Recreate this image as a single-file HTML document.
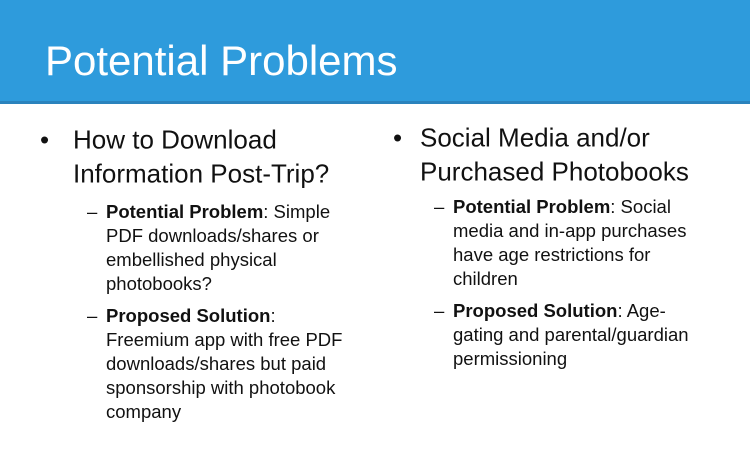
<!DOCTYPE html>
<html><head><meta charset="utf-8"><style>
body{margin:0;width:750px;height:469px;overflow:hidden;background:#fff;font-family:"Liberation Sans",sans-serif;position:relative}
#hdr{position:absolute;left:0;top:0;width:750px;height:101px;background:#2e9bdc;border-bottom:3px solid #2a83bd}
#title{position:absolute;left:45px;top:36px;font-size:42px;color:#fff;line-height:50px}
.t{position:absolute;white-space:nowrap;color:#111;transform:translateY(-50%)}
.l1{font-size:26px}
.l2{font-size:18.5px}
</style></head><body>
<div id="hdr"></div>
<div id="title">Potential Problems</div>
<div>
<div class="t l1" style="left:40px;top:140px">•</div>
<div class="t l1" style="left:73px;top:140px">How to Download</div>
<div class="t l1" style="left:73px;top:174px">Information Post-Trip?</div>
<div class="t l2" style="left:87px;top:212px">–</div>
<div class="t l2" style="left:106px;top:212px"><b>Potential Problem</b>: Simple</div>
<div class="t l2" style="left:106px;top:236px">PDF downloads/shares or</div>
<div class="t l2" style="left:106px;top:260px">embellished physical</div>
<div class="t l2" style="left:106px;top:284px">photobooks?</div>
<div class="t l2" style="left:87px;top:316px">–</div>
<div class="t l2" style="left:106px;top:316px"><b>Proposed Solution</b>:</div>
<div class="t l2" style="left:106px;top:340px">Freemium app with free PDF</div>
<div class="t l2" style="left:106px;top:364px">downloads/shares but paid</div>
<div class="t l2" style="left:106px;top:388px">sponsorship with photobook</div>
<div class="t l2" style="left:106px;top:412px">company</div>
</div>
<div>
<div class="t l1" style="left:393px;top:138px">•</div>
<div class="t l1" style="left:420px;top:138px">Social Media and/or</div>
<div class="t l1" style="left:420px;top:172px">Purchased Photobooks</div>
<div class="t l2" style="left:434px;top:207px">–</div>
<div class="t l2" style="left:453px;top:207px"><b>Potential Problem</b>: Social</div>
<div class="t l2" style="left:453px;top:231px">media and in-app purchases</div>
<div class="t l2" style="left:453px;top:255px">have age restrictions for</div>
<div class="t l2" style="left:453px;top:279px">children</div>
<div class="t l2" style="left:434px;top:311px">–</div>
<div class="t l2" style="left:453px;top:311px"><b>Proposed Solution</b>: Age-</div>
<div class="t l2" style="left:453px;top:335px">gating and parental/guardian</div>
<div class="t l2" style="left:453px;top:359px">permissioning</div>
</div>
</body></html>
